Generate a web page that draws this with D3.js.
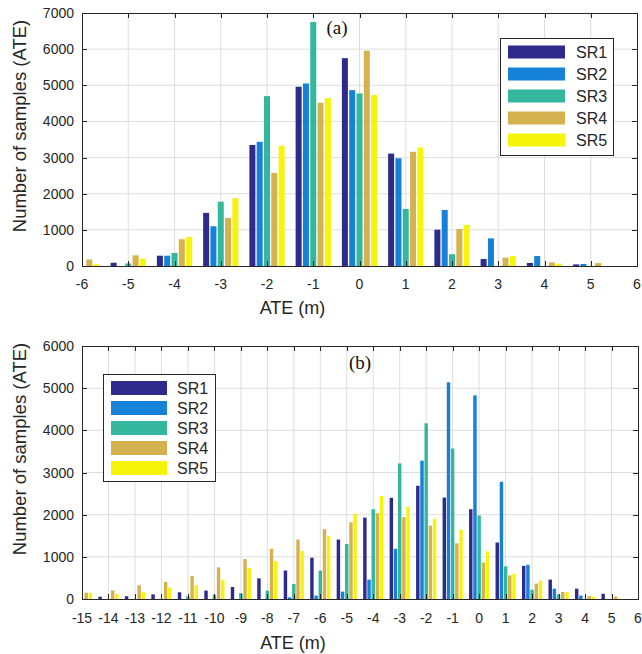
<!DOCTYPE html>
<html>
<head>
  <meta charset="UTF-8">
  <title>ATE histograms</title>
  <script src="https://d3js.org/d3.v7.min.js"></script>
  <style>
    body { margin: 0; background: #fff; }
    .chart text { font-family: "Liberation Sans", Arial, sans-serif; fill: #262626; }
    .chart .panel-tag { font-family: "Liberation Serif", "Times New Roman", serif; fill: #111; }
  </style>
</head>
<body>

<div class="chart"></div>

<script>

  // series names + colours (parula-like, as MATLAB draws them)
  var seriesNames = ['SR1', 'SR2', 'SR3', 'SR4', 'SR5'];
  var seriesColors = ['#2f2b8d', '#1581d9', '#34b79d', '#d5b24f', '#f7f40c'];

  // panel (a)
  var binsA = [-6, -5, -4, -3, -2, -1, 0, 1, 2, 3, 4, 5];
  var a_SR1 = [0, 90, 285, 1470, 3350, 4960, 5750, 3110, 1005, 195, 85, 45];
  var a_SR2 = [0, 0, 285, 1100, 3435, 5050, 4865, 2980, 1550, 765, 275, 55];
  var a_SR3 = [0, 70, 360, 1780, 4700, 6750, 4775, 1580, 325, 0, 0, 0];
  var a_SR4 = [180, 295, 740, 1330, 2575, 4515, 5955, 3160, 1025, 230, 100, 80];
  var a_SR5 = [50, 200, 800, 1875, 3325, 4645, 4730, 3280, 1135, 275, 65, 0];
  var xTicksA = [-6, -5, -4, -3, -2, -1, 0, 1, 2, 3, 4, 5, 6];
  var yTicksA = [0, 1000, 2000, 3000, 4000, 5000, 6000, 7000];

  // panel (b)
  var binsB = [-15, -14, -13, -12, -11, -10, -9, -8, -7, -6, -5, -4, -3, -2, -1, 0, 1, 2, 3, 4, 5];
  var b_SR1 = [0, 55, 65, 110, 160, 200, 285, 490, 675, 980, 1410, 1930, 2400, 2685, 2405, 2130, 1340, 785, 460, 245, 125];
  var b_SR2 = [0, 0, 0, 0, 0, 0, 0, 0, 40, 80, 175, 460, 1190, 3280, 5140, 4830, 2780, 810, 245, 80, 0];
  var b_SR3 = [0, 0, 0, 0, 65, 100, 140, 200, 355, 675, 1305, 2130, 3215, 4165, 3570, 1980, 775, 220, 110, 0, 0];
  var b_SR4 = [150, 205, 325, 405, 545, 750, 950, 1190, 1410, 1655, 1820, 2035, 1940, 1740, 1320, 865, 560, 365, 165, 70, 55];
  var b_SR5 = [150, 125, 160, 270, 325, 450, 735, 895, 1140, 1495, 2020, 2445, 2185, 1900, 1645, 1130, 600, 435, 165, 55, 10];
  var xTicksB = d3.range(-15, 7);
  var yTicksB = [0, 1000, 2000, 3000, 4000, 5000, 6000];

  var W = 642, H = 654;

  var svg = d3.select('.chart')
    .append('svg')
      .attr('width', W)
      .attr('height', H);

  drawPanel({
    id: 'a', tag: '(a)',
    left: 82, right: 637, top: 13, bottom: 266,
    xDomain: [-6, 6], yDomain: [0, 7000],
    xTicks: xTicksA, yTicks: yTicksA,
    bins: binsA, series: [a_SR1, a_SR2, a_SR3, a_SR4, a_SR5],
    tagPos: [337, 34],
    tickLabelY: 289, xLabelY: 314, yLabelCenter: 126,
    legend: { x: 500, y: 38, w: 113, h: 117, patchX: 508, patchW: 57, patchH: 13, textX: 576, rowY0: 52, rowStep: 22 }
  });

  drawPanel({
    id: 'b', tag: '(b)',
    left: 82, right: 638, top: 346, bottom: 599,
    xDomain: [-15, 6], yDomain: [0, 6000],
    xTicks: xTicksB, yTicks: yTicksB,
    bins: binsB, series: [b_SR1, b_SR2, b_SR3, b_SR4, b_SR5],
    tagPos: [360, 369],
    tickLabelY: 623, xLabelY: 649, yLabelCenter: 449,
    legend: { x: 103, y: 374, w: 112, h: 107, patchX: 111, patchW: 56, patchH: 14, textX: 177, rowY0: 388, rowStep: 20 }
  });

  function drawPanel(p) {
    var xScale = d3.scaleLinear().domain(p.xDomain).range([p.left, p.right]);
    var yScale = d3.scaleLinear().domain(p.yDomain).range([p.bottom, p.top]);
    var g = svg.append('g').attr('class', 'panel-' + p.id);

    g.append('rect')
      .attr('x', p.left).attr('y', p.top)
      .attr('width', p.right - p.left).attr('height', p.bottom - p.top)
      .attr('fill', '#fff');

    // grid
    g.append('g').selectAll('line.vg')
      .data(p.xTicks.slice(1, -1))
      .enter().append('line')
        .attr('x1', d => xScale(d)).attr('x2', d => xScale(d))
        .attr('y1', p.top).attr('y2', p.bottom)
        .attr('stroke', '#dedede').attr('stroke-width', 1);
    g.append('g').selectAll('line.hg')
      .data(p.yTicks.slice(1, -1))
      .enter().append('line')
        .attr('x1', p.left).attr('x2', p.right)
        .attr('y1', d => yScale(d)).attr('y2', d => yScale(d))
        .attr('stroke', '#dedede').attr('stroke-width', 1);

    // bars, grouped like matlab bar(..., 'grouped')
    var step = 0.158, barW = 0.13;
    g.append('clipPath').attr('id', 'clip-' + p.id)
      .append('rect')
        .attr('x', p.left).attr('y', p.top)
        .attr('width', p.right - p.left).attr('height', p.bottom - p.top);

    var bars = g.append('g').attr('clip-path', 'url(#clip-' + p.id + ')');
    p.series.forEach((vals, si) => {
      var off = (si - 2) * step;
      bars.append('g').selectAll('rect')
        .data(vals.map((v, i) => ({ x: p.bins[i], v: v })).filter(d => d.v > 0))
        .enter().append('rect')
          .attr('x', d => xScale(d.x + off - barW / 2))
          .attr('width', d => xScale(d.x + off + barW / 2) - xScale(d.x + off - barW / 2))
          .attr('y', d => yScale(d.v))
          .attr('height', d => yScale(0) - yScale(d.v))
          .attr('fill', seriesColors[si]);
    });

    // ticks on all four sides (inward)
    var tl = 5;
    var ticks = g.append('g').attr('stroke', '#262626').attr('stroke-width', 1);
    p.xTicks.forEach(t => {
      var x = Math.round(xScale(t)) + 0.5;
      ticks.append('line').attr('x1', x).attr('x2', x).attr('y1', p.bottom).attr('y2', p.bottom - tl);
      ticks.append('line').attr('x1', x).attr('x2', x).attr('y1', p.top).attr('y2', p.top + tl);
    });
    p.yTicks.forEach(t => {
      var y = Math.round(yScale(t)) + 0.5;
      ticks.append('line').attr('y1', y).attr('y2', y).attr('x1', p.left).attr('x2', p.left + tl);
      ticks.append('line').attr('y1', y).attr('y2', y).attr('x1', p.right).attr('x2', p.right - tl);
    });

    // frame
    g.append('rect')
      .attr('x', p.left + 0.5).attr('y', p.top + 0.5)
      .attr('width', p.right - p.left).attr('height', p.bottom - p.top)
      .attr('fill', 'none').attr('stroke', '#262626').attr('stroke-width', 1);

    // tick labels
    g.append('g').selectAll('text')
      .data(p.xTicks)
      .enter().append('text')
        .attr('x', d => xScale(d))
        .attr('y', p.tickLabelY)
        .attr('text-anchor', 'middle')
        .style('font-size', '14px')
        .text(d => d);
    g.append('g').selectAll('text')
      .data(p.yTicks)
      .enter().append('text')
        .attr('x', p.left - 8)
        .attr('y', d => yScale(d) + 5)
        .attr('text-anchor', 'end')
        .style('font-size', '14px')
        .text(d => d);

    // axis labels
    g.append('text')
      .attr('x', (p.left + p.right) / 2 - 67)
      .attr('y', p.xLabelY)
      .attr('text-anchor', 'middle')
      .style('font-size', '18px')
      .text('ATE (m)');
    g.append('text')
      .attr('transform', `translate(26, ${p.yLabelCenter}) rotate(-90)`)
      .attr('text-anchor', 'middle')
      .style('font-size', '18.5px')
      .text('Number of samples (ATE)');

    // panel tag
    g.append('text')
      .attr('class', 'panel-tag')
      .attr('x', p.tagPos[0]).attr('y', p.tagPos[1])
      .attr('text-anchor', 'middle')
      .style('font-size', '19px')
      .text(p.tag);

    // legend
    var L = p.legend;
    var lg = g.append('g');
    lg.append('rect')
      .attr('x', L.x + 0.5).attr('y', L.y + 0.5)
      .attr('width', L.w).attr('height', L.h)
      .attr('fill', '#fff').attr('stroke', '#262626').attr('stroke-width', 1);
    seriesNames.forEach((name, i) => {
      var cy = L.rowY0 + i * L.rowStep;
      lg.append('rect')
        .attr('x', L.patchX).attr('y', cy - L.patchH / 2)
        .attr('width', L.patchW).attr('height', L.patchH)
        .attr('fill', seriesColors[i]);
      lg.append('text')
        .attr('x', L.textX).attr('y', cy + 6)
        .style('font-size', '16px')
        .text(name);
    });
  }

</script>

</body>
</html>
